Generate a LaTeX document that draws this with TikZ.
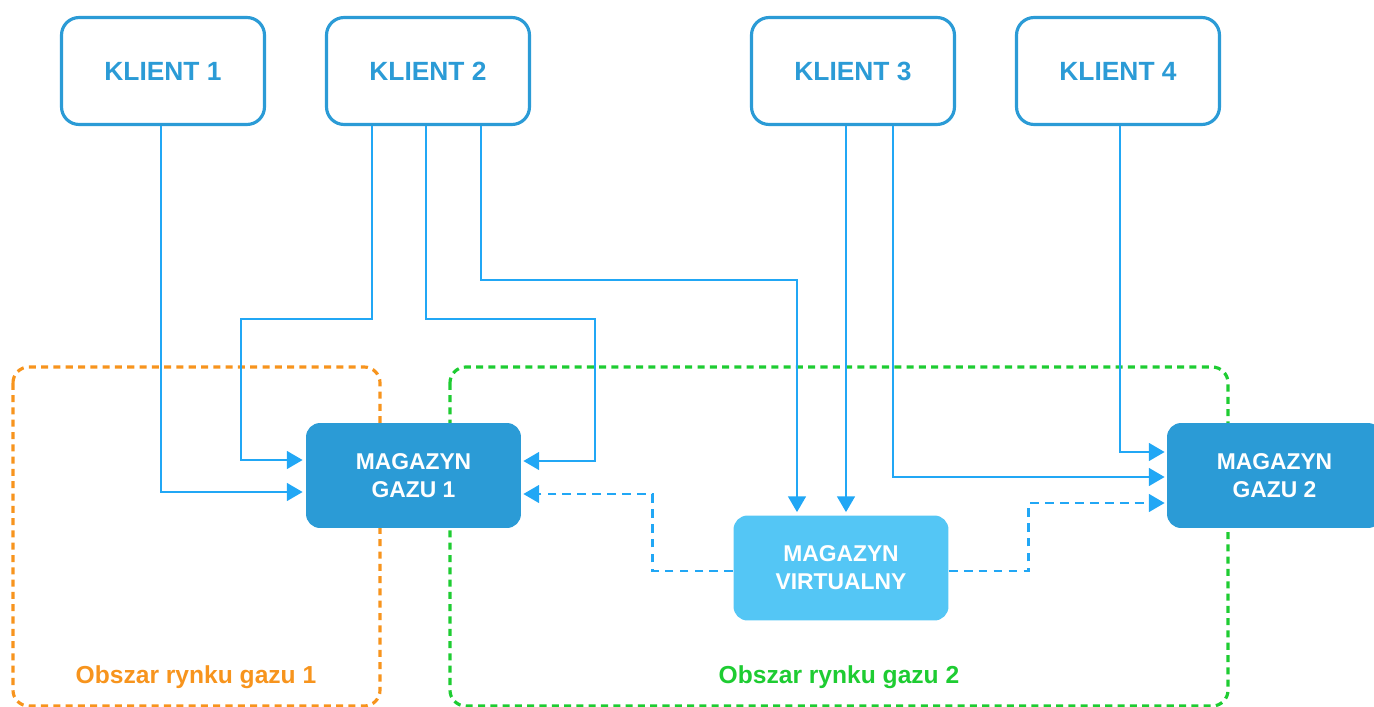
\documentclass[tikz,border=0pt]{standalone}
\usepackage{fontspec}
\setmainfont{Liberation Sans}
\usetikzlibrary{positioning, arrows.meta, calc}
\definecolor{kblue}{RGB}{43,155,214}
\definecolor{fblue}{RGB}{33,167,245}
\definecolor{vblue}{RGB}{84,198,245}
\definecolor{aorange}{RGB}{247,148,29}
\definecolor{agreen}{RGB}{30,204,50}
\tikzset{
  klient/.style={draw=kblue, line width=1.8pt, rounded corners=10pt, minimum width=4.06cm, minimum height=2.14cm, text=kblue, font=\fontsize{15}{18}\selectfont\bfseries},
  mag/.style={fill=kblue, rounded corners=8pt, minimum width=4.3cm, minimum height=2.1cm, text=white, align=center, font=\fontsize{13}{16}\selectfont\bfseries},
  virt/.style={mag, fill=vblue},
  flow/.style={draw=fblue, line width=1.6pt, ->},
  vflow/.style={flow, dash pattern=on 5pt off 3.5pt},
  area/.style={line width=1.8pt, rounded corners=9pt, dash pattern=on 4pt off 3pt},
  arealabel/.style={font=\fontsize{14}{17}\selectfont\bfseries},
}
\begin{document}
\begin{tikzpicture}[x=0.02cm, y=-0.02cm, >={Triangle[length=9pt, width=10pt]}]
  \useasboundingbox (0,0) rectangle (1374,707);
  % market areas
  \draw[area, aorange] (13,367) rectangle (380,706);
  \draw[area, agreen] (450,367) rectangle (1228,706);
  \node[arealabel, text=aorange] (l1) at (196,677) {Obszar rynku gazu 1};
  \node[arealabel, text=agreen] (l2) at (839,677) {Obszar rynku gazu 2};
  % clients
  \node[klient] (k1) at (163,71) {KLIENT 1};
  \node[klient] (k2) at (428,71) {KLIENT 2};
  \node[klient] (k3) at (853,71) {KLIENT 3};
  \node[klient] (k4) at (1118,71) {KLIENT 4};
  % storages
  \node[mag] (m1) at (413.5,475.5) {MAGAZYN\\GAZU 1};
  \node[mag] (m2) at (1274.5,475.5) {MAGAZYN\\GAZU 2};
  \node[virt] (mv) at (841,568) {MAGAZYN\\VIRTUALNY};
  % client flows
  \draw[flow] ($(k1.south)+(-2,0)$) |- ($(m1.west)+(-3,16.5)$);
  \draw[flow] ($(k2.south)+(-56,0)$) |- ++(-131,193) |- ($(m1.west)+(-3,-15.5)$);
  \draw[flow] ($(k2.south)+(-2,0)$) |- ++(169,193) |- ($(m1.east)+(2,-14.5)$);
  \draw[flow] ($(k2.south)+(53,0)$) |- ++(316,154) -| ($(mv.north)+(-44,-3)$);
  \draw[flow] ($(k3.south)+(-7,0)$) -- ($(mv.north)+(5,-3)$);
  \draw[flow] ($(k3.south)+(40,0)$) |- ($(m2.west)+(-2,1.5)$);
  \draw[flow] ($(k4.south)+(2,0)$) |- ($(m2.west)+(-2,-23.5)$);
  % virtual storage flows
  \draw[vflow] ($(mv.west)+(0,3)$) -- ++(-81,0) |- ($(m1.east)+(2,18.5)$);
  \draw[vflow] ($(mv.east)+(0,3)$) -- ++(80,0) |- ($(m2.west)+(-2,27.5)$);
\end{tikzpicture}
\end{document}
